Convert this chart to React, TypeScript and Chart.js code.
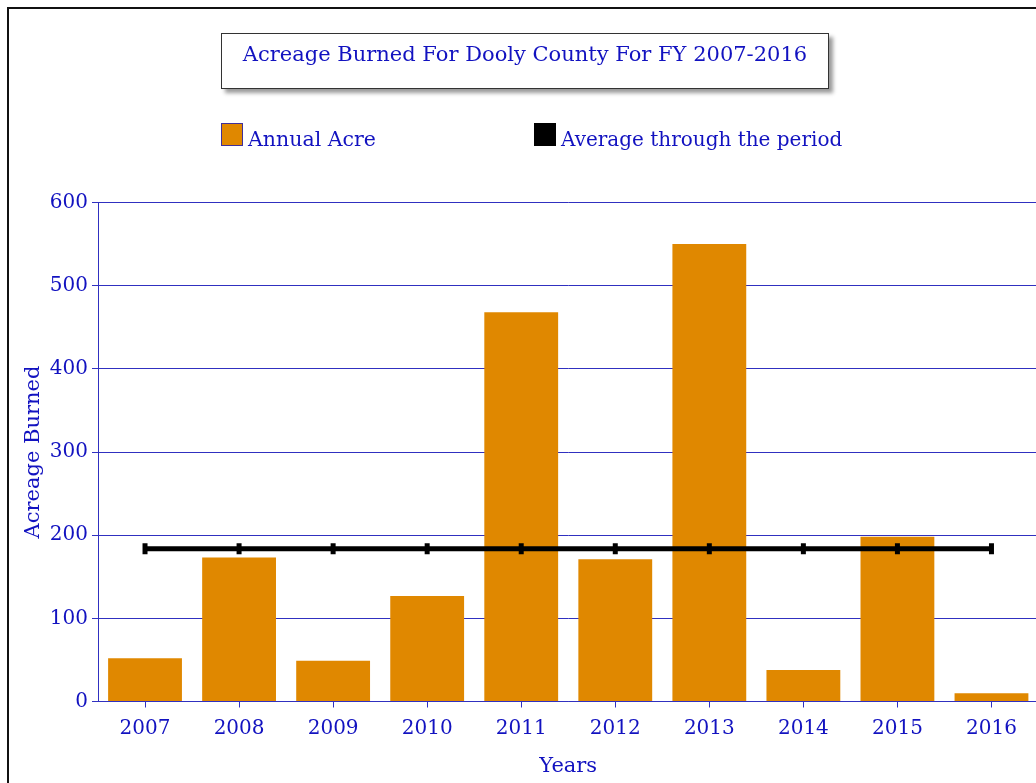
import React, { useEffect, useRef } from "react";
import { Chart, registerables } from "chart.js";

Chart.register(...registerables);

const years = ["2007", "2008", "2009", "2010", "2011", "2012", "2013", "2014", "2015", "2016"];
const annualAcres = [52, 173, 49, 127, 468, 171, 550, 38, 198, 10];
const periodAverage = [183.6, 183.6, 183.6, 183.6, 183.6, 183.6, 183.6, 183.6, 183.6, 183.6];
const yTickValues = [0, 100, 200, 300, 400, 500, 600];

const FONT = "'DejaVu Serif', serif";
const BLUE = "#1212c0";
const GRID = "#3030c0";
const ORANGE = "#e08800";

export default function App() {
  const ref = useRef<HTMLCanvasElement>(null);

  useEffect(() => {
    const chart = new Chart(ref.current as HTMLCanvasElement, {
      type: "bar",
      data: {
        labels: years,
        datasets: [
          {
            type: "line",
            label: "Average through the period",
            data: periodAverage,
            borderColor: "#000",
            backgroundColor: "#000",
            borderWidth: 5,
            pointStyle: "line",
            pointRotation: 90,
            pointRadius: 5.5,
            pointBorderWidth: 5,
            pointBorderColor: "#000",
            pointBackgroundColor: "#000",
            fill: false,
            order: 0,
          } as any,
          {
            type: "bar",
            label: "Annual Acre",
            data: annualAcres,
            backgroundColor: ORANGE,
            borderWidth: 0,
            barPercentage: 0.785,
            categoryPercentage: 1,
            order: 1,
          },
        ],
      },
      options: {
        responsive: false,
        animation: false,
        devicePixelRatio: 1,
        layout: { padding: { top: 202.5, right: 6, bottom: 0, left: 0 } },
        plugins: {
          legend: { display: false },
          title: { display: false },
          tooltip: { enabled: false },
        },
        scales: {
          x: {
            grid: {
              display: true,
              drawOnChartArea: false,
              drawTicks: true,
              tickLength: 6,
              offset: false,
              color: GRID,
              lineWidth: 1,
            },
            border: { display: true, color: GRID, width: 1 },
            ticks: {
              color: BLUE,
              font: { family: FONT, size: 20 },
              padding: 9,
              maxRotation: 0,
              autoSkip: false,
            },
            title: {
              display: true,
              text: "Years",
              color: BLUE,
              font: { family: FONT, size: 21 },
              padding: { top: 0, bottom: 4 },
            },
            afterFit: (s: any) => {
              s.height = 81.5;
            },
          },
          y: {
            min: 0,
            max: 600,
            afterBuildTicks: (s: any) => {
              s.ticks = yTickValues.map((v) => ({ value: v }));
            },
            grid: { color: GRID, tickLength: 6, lineWidth: 1 },
            border: { display: true, color: GRID, width: 1 },
            ticks: {
              color: BLUE,
              font: { family: FONT, size: 20 },
              padding: 4,
            },
            title: {
              display: true,
              text: "Acreage Burned",
              color: BLUE,
              font: { family: FONT, size: 21 },
              padding: { top: 21, bottom: 21 },
            },
            afterFit: (s: any) => {
              s.width = 98;
            },
          },
        },
      },
    });
    return () => chart.destroy();
  }, []);

  const textBase: React.CSSProperties = {
    position: "absolute",
    fontFamily: FONT,
    color: BLUE,
    whiteSpace: "nowrap",
  };

  return (
    <div
      style={{
        position: "fixed",
        left: 0,
        top: 0,
        width: 1036,
        height: 783,
        overflow: "hidden",
        background: "#fff",
      }}
    >
      <div
        style={{
          position: "absolute",
          left: 7,
          top: 7,
          width: 1200,
          height: 1000,
          borderLeft: "2px solid #111",
          borderTop: "2px solid #111",
        }}
      />
      <canvas
        ref={ref}
        width={1049}
        height={783}
        style={{ position: "absolute", left: 0, top: 0, width: "1049px", height: "783px" }}
      />
      <div
        style={{
          position: "absolute",
          left: 221,
          top: 33,
          width: 608,
          height: 56,
          boxSizing: "border-box",
          border: "1px solid #333",
          background: "#fff",
          boxShadow: "4px 4px 4px #9a9a9a",
        }}
      />
      <div
        style={{
          ...textBase,
          left: 221,
          width: 608,
          top: 42,
          textAlign: "center",
          fontSize: 21,
          lineHeight: "24px",
        }}
      >
        Acreage Burned For Dooly County For FY 2007-2016
      </div>
      <div
        style={{
          position: "absolute",
          left: 221,
          top: 123,
          width: 22,
          height: 23,
          boxSizing: "border-box",
          background: ORANGE,
          border: "1px solid #40309a",
        }}
      />
      <div style={{ ...textBase, left: 248, top: 127, fontSize: 20.5, lineHeight: "24px" }}>
        Annual Acre
      </div>
      <div
        style={{
          position: "absolute",
          left: 534,
          top: 123,
          width: 22,
          height: 23,
          background: "#000",
        }}
      />
      <div style={{ ...textBase, left: 561, top: 127, fontSize: 20, lineHeight: "24px" }}>
        Average through the period
      </div>
    </div>
  );
}
